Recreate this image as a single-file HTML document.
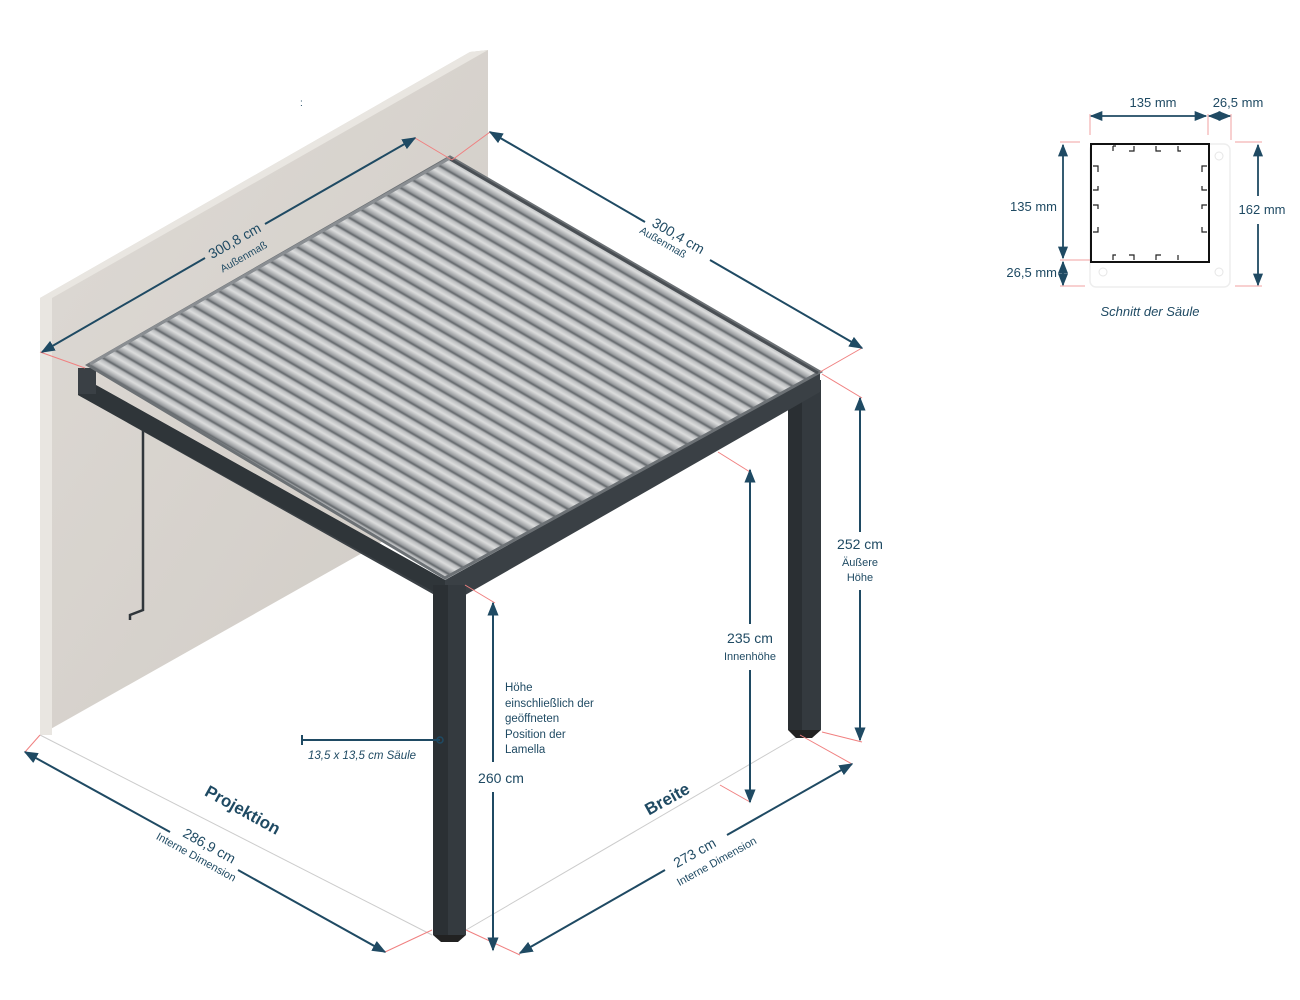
<!DOCTYPE html>
<html><head><meta charset="utf-8"><style>
html,body{margin:0;padding:0;background:#fff;}
svg{display:block;}
text{font-family:"Liberation Sans",sans-serif;fill:#1f4a63;}
</style></head><body>
<svg width="1300" height="1000" viewBox="0 0 1300 1000" xmlns="http://www.w3.org/2000/svg">
<defs>
<linearGradient id="wall" x1="0" y1="0" x2="1" y2="1">
<stop offset="0" stop-color="#dedad5"/><stop offset="1" stop-color="#d0cbc5"/></linearGradient>
<linearGradient id="slat" x1="0" y1="0" x2="0" y2="1">
<stop offset="0" stop-color="#5f6468"/><stop offset="0.15" stop-color="#b9bbbd"/><stop offset="0.45" stop-color="#dcdddd"/><stop offset="0.85" stop-color="#9a9da0"/><stop offset="1" stop-color="#5f6468"/></linearGradient>
<pattern id="slats" width="600" height="12.9" patternUnits="userSpaceOnUse" patternTransform="translate(450,157) rotate(30.2)">
<rect width="600" height="12.9" fill="url(#slat)"/></pattern>
<marker id="ar" viewBox="0 0 10 10" refX="9" refY="5" markerWidth="7" markerHeight="7" orient="auto-start-reverse"><path d="M0,1 L10,5 L0,9 z" fill="#1f4a63"/></marker>
</defs>

<!-- wall -->
<polygon points="40,298 470,52 488,50 488,482 40,735" fill="url(#wall)"/>
<polygon points="40,298 470,52 488,50 52,298 52,735 40,735" fill="#e9e6e1"/>
<text x="300" y="106" font-size="10" fill="#888">:</text>

<!-- ground lines -->
<line x1="40" y1="735" x2="432" y2="935" stroke="#ccc" stroke-width="1"/>
<line x1="466" y1="930" x2="800" y2="735" stroke="#ccc" stroke-width="1"/>

<!-- left wall post -->
<polyline points="143,430 143,610 130,615 130,620" fill="none" stroke="#30363b" stroke-width="2.5"/>

<!-- right back post -->
<rect x="788" y="380" width="33" height="350" fill="#343a3f"/>
<rect x="788" y="380" width="14" height="350" fill="#2a2f33"/>
<polygon points="788,730 821,730 812,738 796,738" fill="#222"/>

<!-- frame beams -->
<polygon points="78,375 445,580 820,372 820,392 460,598 440,598 78,395" fill="#3a4045"/>
<polygon points="78,375 445,580 445,598 78,395" fill="#2f3539"/>
<rect x="78" y="368" width="18" height="26" fill="#3a4045"/>
<!-- roof -->
<polygon points="88,365 450,157 820,372 445,578" fill="url(#slats)" stroke="#6c7175" stroke-width="3"/>
<line x1="450" y1="159" x2="818" y2="373" stroke="#4a4f54" stroke-width="3"/>
<line x1="90" y1="364" x2="450" y2="158" stroke="#8a8e92" stroke-width="3"/>

<!-- front post -->
<rect x="433" y="585" width="33" height="350" fill="#343a3f"/>
<rect x="433" y="585" width="15" height="350" fill="#2b3034"/>
<polygon points="433,935 466,935 458,942 441,942" fill="#222"/>

<!-- red guides -->
<g stroke="#f08080" stroke-width="1" fill="none">
<line x1="40" y1="352" x2="85" y2="368"/>
<line x1="415" y1="138" x2="452" y2="160"/>
<line x1="490" y1="132" x2="452" y2="160"/>
<line x1="862" y1="348" x2="820" y2="372"/>
<line x1="822" y1="374" x2="862" y2="398"/>
<line x1="718" y1="452" x2="750" y2="472"/>
<line x1="465" y1="585" x2="495" y2="603"/>
<line x1="822" y1="732" x2="862" y2="742"/>
<line x1="720" y1="785" x2="750" y2="802"/>
<line x1="800" y1="735" x2="852" y2="764"/>
<line x1="466" y1="930" x2="520" y2="955"/>
<line x1="432" y1="930" x2="385" y2="952"/>
<line x1="40" y1="735" x2="25" y2="752"/>
</g>

<!-- dimension lines -->
<g stroke="#1f4a63" stroke-width="2" fill="none">
<line x1="42" y1="352" x2="205" y2="258" marker-start="url(#ar)"/>
<line x1="265" y1="224" x2="415" y2="138" marker-end="url(#ar)"/>
<line x1="490" y1="132" x2="645" y2="222" marker-start="url(#ar)"/>
<line x1="710" y1="260" x2="862" y2="348" marker-end="url(#ar)"/>
<line x1="860" y1="398" x2="860" y2="532" marker-start="url(#ar)"/>
<line x1="860" y1="590" x2="860" y2="740" marker-end="url(#ar)"/>
<line x1="750" y1="470" x2="750" y2="624" marker-start="url(#ar)"/>
<line x1="750" y1="670" x2="750" y2="802" marker-end="url(#ar)"/>
<line x1="493" y1="603" x2="493" y2="762" marker-start="url(#ar)"/>
<line x1="493" y1="792" x2="493" y2="950" marker-end="url(#ar)"/>
<line x1="25" y1="752" x2="170" y2="832" marker-start="url(#ar)"/>
<line x1="238" y1="870" x2="385" y2="952" marker-end="url(#ar)"/>
<line x1="520" y1="953" x2="665" y2="870" marker-start="url(#ar)"/>
<line x1="727" y1="835" x2="852" y2="764" marker-end="url(#ar)"/>
<line x1="302" y1="740" x2="440" y2="740"/>
<line x1="302" y1="735" x2="302" y2="745"/>
</g>
<circle cx="440" cy="740" r="3" fill="none" stroke="#1f4a63" stroke-width="1.5"/>

<!-- labels -->
<g transform="translate(237,245) rotate(-29.5)"><text x="0" y="0" font-size="14" text-anchor="middle">300,8 cm</text><text x="0" y="17" font-size="10.5" text-anchor="middle">Außenmaß</text></g>
<g transform="translate(676,240) rotate(30)"><text x="0" y="0" font-size="14" text-anchor="middle">300,4 cm</text><text x="-10" y="12" font-size="10.5" text-anchor="middle">Außenmaß</text></g>
<text x="860" y="549" font-size="14" text-anchor="middle">252 cm</text>
<text x="860" y="566" font-size="11" text-anchor="middle">Äußere</text>
<text x="860" y="581" font-size="11" text-anchor="middle">Höhe</text>
<text x="750" y="643" font-size="14" text-anchor="middle">235 cm</text>
<text x="750" y="660" font-size="11" text-anchor="middle">Innenhöhe</text>
<text x="501" y="783" font-size="14" text-anchor="middle">260 cm</text>
<g font-size="11.5"><text x="505" y="691">Höhe</text><text x="505" y="707">einschließlich der</text><text x="505" y="722">geöffneten</text><text x="505" y="738">Position der</text><text x="505" y="753">Lamella</text></g>
<text x="308" y="759" font-size="11.5" font-style="italic">13,5 x 13,5 cm Säule</text>
<g transform="translate(240,815) rotate(29)"><text x="0" y="0" font-size="17" font-weight="bold" text-anchor="middle" fill="#163c55">Projektion</text></g>
<g transform="translate(207,850) rotate(29)"><text x="0" y="0" font-size="14" text-anchor="middle">286,9 cm</text><text x="-6" y="15" font-size="11" text-anchor="middle">Interne Dimension</text></g>
<g transform="translate(670,804) rotate(-29)"><text x="0" y="0" font-size="17" font-weight="bold" text-anchor="middle" fill="#163c55">Breite</text></g>
<g transform="translate(697,857) rotate(-29)"><text x="0" y="0" font-size="14" text-anchor="middle">273 cm</text><text x="15" y="17" font-size="11" text-anchor="middle">Interne Dimension</text></g>

<!-- cross section -->
<rect x="1090" y="144" width="140" height="143" rx="6" fill="none" stroke="#eee" stroke-width="1.5"/>
<circle cx="1219" cy="156" r="4" fill="none" stroke="#e6e6e6"/>
<circle cx="1103" cy="272" r="4" fill="none" stroke="#e6e6e6"/>
<circle cx="1219" cy="272" r="4" fill="none" stroke="#e6e6e6"/>
<rect x="1091" y="144" width="118" height="118" fill="none" stroke="#111" stroke-width="2"/>
<g stroke="#222" stroke-width="1.2" fill="none">
<path d="M1113,146 v5 M1113,146 h3 M1134,146 v5 h-5 M1156,146 v5 h5 M1178,146 v5 h3"/>
<path d="M1113,260 v-5 h3 M1134,260 v-5 h-5 M1156,260 v-5 h5 M1178,260 v-5"/>
<path d="M1093,166 h5 v6 M1093,190 h5 v-4 M1093,205 h5 v4 M1093,232 h5 v-5"/>
<path d="M1207,166 h-5 v6 M1207,190 h-5 v-4 M1207,205 h-5 v4 M1207,232 h-5 v-5"/>
</g>
<g stroke="#f2a0a0" stroke-width="1">
<line x1="1090" y1="114" x2="1090" y2="135"/><line x1="1208" y1="114" x2="1208" y2="135"/><line x1="1231" y1="114" x2="1231" y2="140"/>
<line x1="1060" y1="142" x2="1080" y2="142"/><line x1="1060" y1="260" x2="1090" y2="260"/><line x1="1060" y1="286" x2="1085" y2="286"/>
<line x1="1235" y1="142" x2="1262" y2="142"/><line x1="1235" y1="286" x2="1262" y2="286"/>
</g>
<g stroke="#1f4a63" stroke-width="1.8" fill="none">
<line x1="1091" y1="116" x2="1206" y2="116" marker-start="url(#ar)" marker-end="url(#ar)"/>
<line x1="1209" y1="116" x2="1230" y2="116" marker-start="url(#ar)" marker-end="url(#ar)"/>
<line x1="1063" y1="145" x2="1063" y2="258" marker-start="url(#ar)" marker-end="url(#ar)"/>
<line x1="1063" y1="262" x2="1063" y2="285" marker-start="url(#ar)" marker-end="url(#ar)"/>
<line x1="1258" y1="145" x2="1258" y2="196" marker-start="url(#ar)"/>
<line x1="1258" y1="224" x2="1258" y2="285" marker-end="url(#ar)"/>
</g>
<text x="1153" y="107" font-size="13" text-anchor="middle">135 mm</text>
<text x="1238" y="107" font-size="13" text-anchor="middle">26,5 mm</text>
<text x="1057" y="211" font-size="13" text-anchor="end">135 mm</text>
<text x="1057" y="277" font-size="13" text-anchor="end">26,5 mm</text>
<text x="1262" y="214" font-size="13" text-anchor="middle">162 mm</text>
<text x="1150" y="316" font-size="13" font-style="italic" text-anchor="middle">Schnitt der Säule</text>
</svg>
</body></html>
